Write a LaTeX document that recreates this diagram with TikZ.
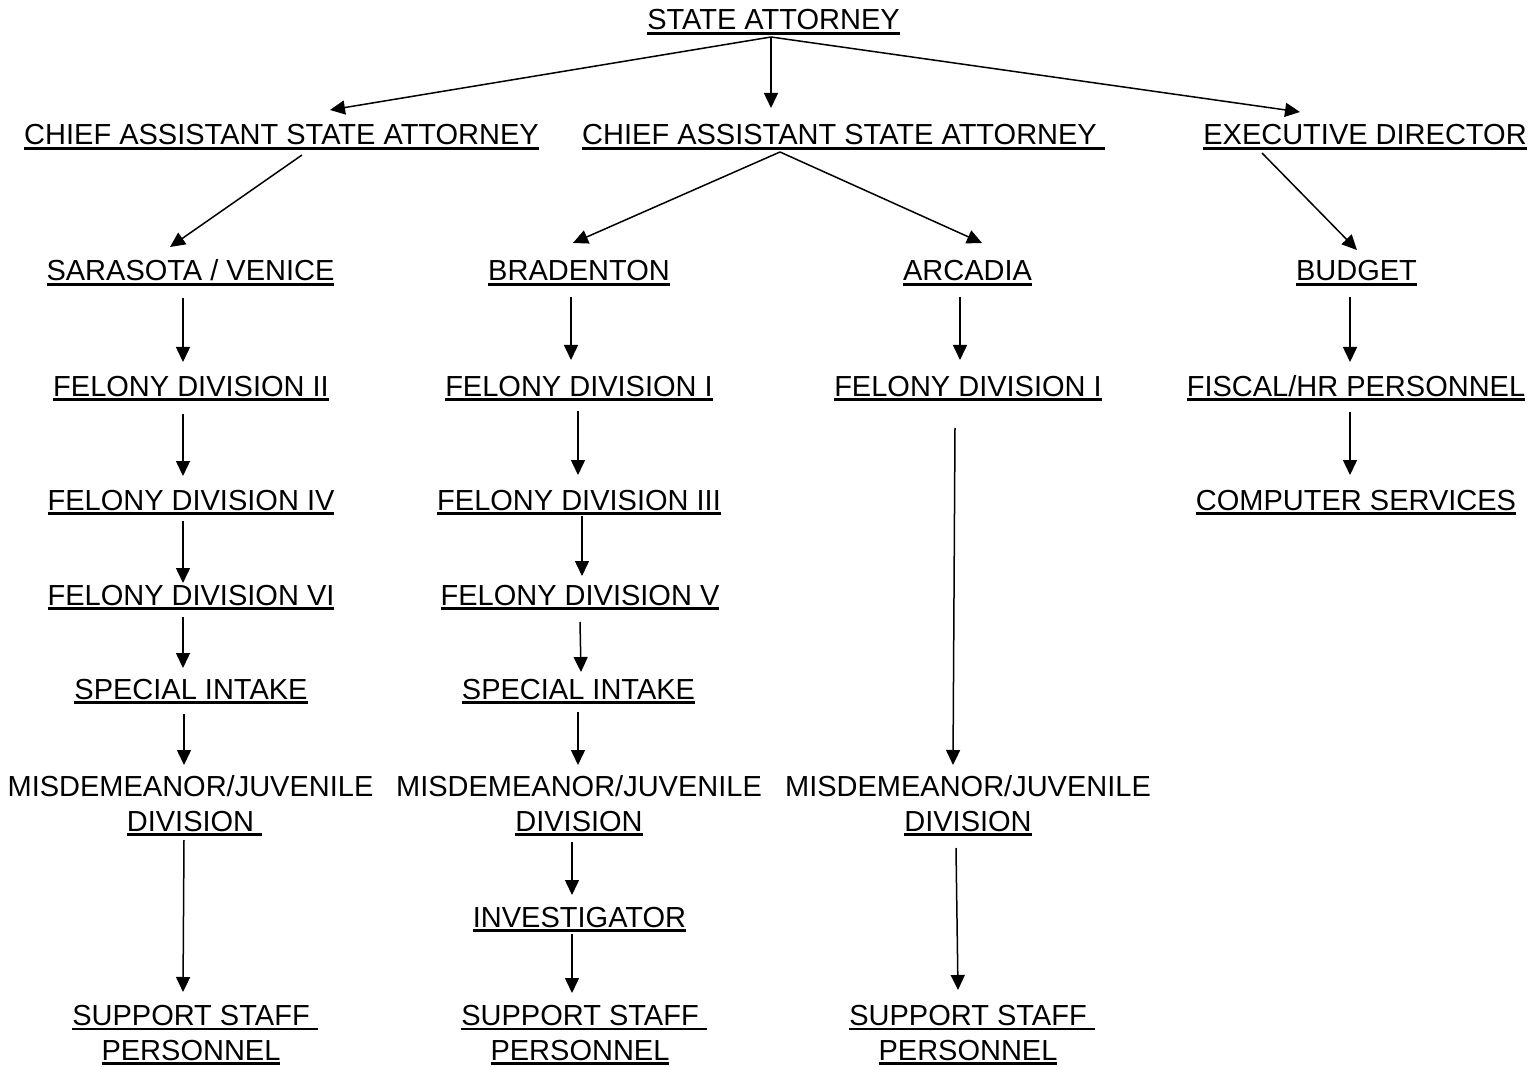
\documentclass[tikz,border=0pt]{standalone}
\usepackage{fontspec}
\setmainfont{Liberation Sans}
\usetikzlibrary{arrows.meta}

% underlined label text; \ulsp carries the rule on over one trailing space
\newcommand\ulx[1]{{\setbox0\hbox{#1}\rlap{\rule[-5.2pt]{\wd0}{2.8pt}}\box0}}
\newcommand\ulsp[1]{{\setbox0\hbox{#1}\setbox2\hbox{#1\ }\rlap{\rule[-5.2pt]{\wd2}{2.8pt}}\box0}}

\tikzset{
  lbl/.style={inner sep=0pt, anchor=base, align=center,
              font=\fontsize{29.0}{34.8}\selectfont},
  arr/.style={line width=1.5pt, -{Triangle[width=14pt,length=15pt]}}
}

\begin{document}
\begin{tikzpicture}[x=1pt,y=-1pt]
\useasboundingbox[fill=white] (0,0) rectangle (1532,1067);

% top level
\node[lbl] (sa) at (773.5,30) {\ulx{STATE ATTORNEY}};

% second level
\node[lbl] (casa1)  at (281.5,145) {\ulx{CHIEF ASSISTANT STATE ATTORNEY}};
\node[lbl] (casa2)  at (839.5,145) {\ulsp{CHIEF ASSISTANT STATE ATTORNEY}};
\node[lbl] (exec)   at (1365,145)  {\ulx{EXECUTIVE DIRECTOR}};

% offices
\node[lbl] (saras)  at (190.5,281)  {\ulx{SARASOTA / VENICE}};
\node[lbl] (brad)   at (579,281)    {\ulx{BRADENTON}};
\node[lbl] (arc)    at (967.5,281)  {\ulx{ARCADIA}};
\node[lbl] (budget) at (1356.5,281) {\ulx{BUDGET}};

% divisions
\node[lbl] (fd2)    at (191,396)  {\ulx{FELONY DIVISION II}};
\node[lbl] (fd1a)   at (579,396)  {\ulx{FELONY DIVISION I}};
\node[lbl] (fd1b)   at (968,396)  {\ulx{FELONY DIVISION I}};
\node[lbl] (fiscal) at (1356,396) {\ulx{FISCAL/HR PERSONNEL}};

\node[lbl] (fd4)    at (191,510)  {\ulx{FELONY DIVISION IV}};
\node[lbl] (fd3)    at (579,510)  {\ulx{FELONY DIVISION III}};
\node[lbl] (comp)   at (1356,510) {\ulx{COMPUTER SERVICES}};

\node[lbl] (fd6)    at (191,605)  {\ulx{FELONY DIVISION VI}};
\node[lbl] (fd5)    at (580,605)  {\ulx{FELONY DIVISION V}};

\node[lbl] (si1)    at (191,699)   {\ulx{SPECIAL INTAKE}};
\node[lbl] (si2)    at (578.5,699) {\ulx{SPECIAL INTAKE}};

\node[lbl] (mj1)    at (190.5,831) {MISDEMEANOR/JUVENILE\\\ulsp{DIVISION}};
\node[lbl] (mj2)    at (579,831)   {MISDEMEANOR/JUVENILE\\\ulx{DIVISION}};
\node[lbl] (mj3)    at (968,831)   {MISDEMEANOR/JUVENILE\\\ulx{DIVISION}};

\node[lbl] (inv)    at (579.5,927) {\ulx{INVESTIGATOR}};

\node[lbl] (ss1)    at (191,1060) {\ulsp{SUPPORT STAFF}\\\ulx{PERSONNEL}};
\node[lbl] (ss2)    at (580,1060) {\ulsp{SUPPORT STAFF}\\\ulx{PERSONNEL}};
\node[lbl] (ss3)    at (968,1060) {\ulsp{SUPPORT STAFF}\\\ulx{PERSONNEL}};

% reporting lines
\draw[arr] ([shift={(-2.5,7)}]sa.base) -- ([shift={(48.5,-35)}]casa1.base);
\draw[arr] ([shift={(-2.5,7)}]sa.base) -- ([shift={(-68.5,-37)}]casa2.base);
\draw[arr] ([shift={(-2.5,7)}]sa.base) -- ([shift={(-65,-33)}]exec.base);

\draw[arr] ([shift={(20.5,10)}]casa1.base) -- ([shift={(-20.5,-34)}]saras.base);
\draw[arr] ([shift={(-59.5,7)}]casa2.base) -- ([shift={(-6,-38)}]brad.base);
\draw[arr] ([shift={(-59.5,7)}]casa2.base) -- ([shift={(14.5,-38)}]arc.base);
\draw[arr] ([shift={(-103,8)}]exec.base) -- ([shift={(0.5,-31)}]budget.base);

% Sarasota / Venice column
\draw[arr] ([shift={(-7.5,17)}]saras.base) -- ([shift={(-8,-34)}]fd2.base);
\draw[arr] ([shift={(-8,18)}]fd2.base) -- ([shift={(-8,-34)}]fd4.base);
\draw[arr] ([shift={(-8,11)}]fd4.base) -- ([shift={(-8,-22)}]fd6.base);
\draw[arr] ([shift={(-8,12)}]fd6.base) -- ([shift={(-8,-31)}]si1.base);
\draw[arr] ([shift={(-7,15)}]si1.base) -- ([shift={(-6.5,-66)}]mj1.base);
\draw[arr] ([shift={(-6.5,9)}]mj1.base) -- ([shift={(-8,-68)}]ss1.base);

% Bradenton column
\draw[arr] ([shift={(-8,16)}]brad.base) -- ([shift={(-8,-36)}]fd1a.base);
\draw[arr] ([shift={(-1,15)}]fd1a.base) -- ([shift={(-1,-35)}]fd3.base);
\draw[arr] ([shift={(3,6)}]fd3.base) -- ([shift={(2,-29)}]fd5.base);
\draw[arr] ([shift={(0,17)}]fd5.base) -- ([shift={(2.5,-27)}]si2.base);
\draw[arr] ([shift={(-0.5,13)}]si2.base) -- ([shift={(-1,-66)}]mj2.base);
\draw[arr] ([shift={(-7,11)}]mj2.base) -- ([shift={(-7.5,-32)}]inv.base);
\draw[arr] ([shift={(-7.5,7)}]inv.base) -- ([shift={(-8,-67)}]ss2.base);

% Arcadia column
\draw[arr] ([shift={(-7.5,16)}]arc.base) -- ([shift={(-8,-36)}]fd1b.base);
\draw[arr] ([shift={(-13,32)}]fd1b.base) -- ([shift={(-15,-66)}]mj3.base);
\draw[arr] ([shift={(-12,17)}]mj3.base) -- ([shift={(-10,-70)}]ss3.base);

% administration column
\draw[arr] ([shift={(-6.5,16)}]budget.base) -- ([shift={(-6,-34)}]fiscal.base);
\draw[arr] ([shift={(-6,16)}]fiscal.base) -- ([shift={(-6,-35)}]comp.base);
\end{tikzpicture}
\end{document}
